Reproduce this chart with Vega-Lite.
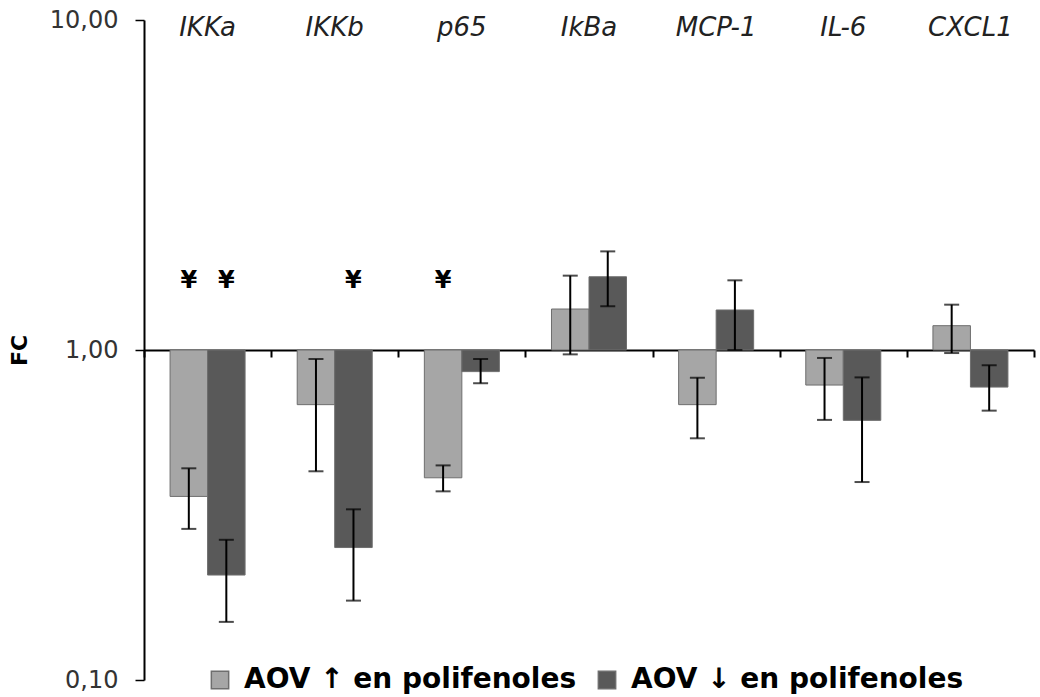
{
  "$schema": "https://vega.github.io/schema/vega-lite/v6.json",
  "width": 890,
  "height": 660,
  "autosize": {"type": "none"},
  "padding": {"left": 144, "top": 20, "right": 6, "bottom": 17},
  "background": "white",
  "config": {"view": {"stroke": null}},
  "datasets": {
    "bars": [
      {"gen": "IKKa", "grupo": "AOV ↑ en polifenoles", "FC": 0.36, "lo": 0.287, "hi": 0.438},
      {"gen": "IKKa", "grupo": "AOV ↓ en polifenoles", "FC": 0.208, "lo": 0.15, "hi": 0.266},
      {"gen": "IKKb", "grupo": "AOV ↑ en polifenoles", "FC": 0.683, "lo": 0.429, "hi": 0.939},
      {"gen": "IKKb", "grupo": "AOV ↓ en polifenoles", "FC": 0.252, "lo": 0.174, "hi": 0.329},
      {"gen": "p65", "grupo": "AOV ↑ en polifenoles", "FC": 0.41, "lo": 0.373, "hi": 0.447},
      {"gen": "p65", "grupo": "AOV ↓ en polifenoles", "FC": 0.86, "lo": 0.793, "hi": 0.939},
      {"gen": "IkBa", "grupo": "AOV ↑ en polifenoles", "FC": 1.331, "lo": 0.97, "hi": 1.68},
      {"gen": "IkBa", "grupo": "AOV ↓ en polifenoles", "FC": 1.667, "lo": 1.357, "hi": 1.99},
      {"gen": "MCP-1", "grupo": "AOV ↑ en polifenoles", "FC": 0.683, "lo": 0.54, "hi": 0.824},
      {"gen": "MCP-1", "grupo": "AOV ↓ en polifenoles", "FC": 1.322, "lo": 1.0, "hi": 1.626},
      {"gen": "IL-6", "grupo": "AOV ↑ en polifenoles", "FC": 0.783, "lo": 0.614, "hi": 0.946},
      {"gen": "IL-6", "grupo": "AOV ↓ en polifenoles", "FC": 0.612, "lo": 0.398, "hi": 0.826},
      {"gen": "CXCL1", "grupo": "AOV ↑ en polifenoles", "FC": 1.185, "lo": 0.979, "hi": 1.372},
      {"gen": "CXCL1", "grupo": "AOV ↓ en polifenoles", "FC": 0.772, "lo": 0.655, "hi": 0.899}
    ],
    "signos": [
      {"gen": "IKKa", "grupo": "AOV ↑ en polifenoles", "pos": 1.62, "signo": "¥"},
      {"gen": "IKKa", "grupo": "AOV ↓ en polifenoles", "pos": 1.62, "signo": "¥"},
      {"gen": "IKKb", "grupo": "AOV ↓ en polifenoles", "pos": 1.62, "signo": "¥"},
      {"gen": "p65", "grupo": "AOV ↑ en polifenoles", "pos": 1.62, "signo": "¥"}
    ]
  },
  "layer": [
    {
      "data": {"name": "bars"},
      "mark": {"type": "bar", "stroke": "#6e6e6e", "strokeWidth": 1},
      "encoding": {
        "x": {
          "field": "gen", "type": "nominal",
          "sort": ["IKKa", "IKKb", "p65", "IkBa", "MCP-1", "IL-6", "CXCL1"],
          "scale": {"paddingInner": 0, "paddingOuter": 0},
          "axis": {
            "orient": "bottom", "offset": -330, "title": null, "labels": false,
            "ticks": true, "tickBand": "extent", "tickSize": 7, "tickWidth": 2, "tickColor": "#000",
            "domain": true, "domainColor": "#000", "domainWidth": 2, "grid": false
          }
        },
        "xOffset": {
          "field": "grupo", "type": "nominal",
          "sort": ["AOV ↑ en polifenoles", "AOV ↓ en polifenoles"],
          "scale": {"paddingInner": 0, "paddingOuter": 0.695}
        },
        "y": {
          "field": "FC", "type": "quantitative",
          "scale": {"type": "log", "domain": [0.1, 10], "nice": false},
          "axis": {
            "values": [0.1, 1, 10],
            "labelExpr": "replace(format(datum.value, '.2f'), '.', ',')",
            "grid": false, "tickSize": 9, "tickWidth": 1.5, "tickColor": "#000",
            "domainColor": "#000", "domainWidth": 2,
            "labelFont": "DejaVu Sans", "labelFontSize": 24, "labelColor": "#333333", "labelPadding": 17,
            "title": "FC", "titleFont": "DejaVu Sans", "titleFontSize": 22, "titleFontWeight": "bold",
            "titleColor": "#000", "titlePadding": 18
          }
        },
        "y2": {"datum": 1},
        "color": {
          "field": "grupo", "type": "nominal",
          "sort": ["AOV ↑ en polifenoles", "AOV ↓ en polifenoles"],
          "scale": {"domain": ["AOV ↑ en polifenoles", "AOV ↓ en polifenoles"], "range": ["#a6a6a6", "#595959"]},
          "legend": {
            "orient": "none", "legendX": 62, "legendY": 646, "direction": "horizontal", "title": null,
            "labelFont": "DejaVu Sans", "labelFontWeight": "bold", "labelFontSize": 28, "labelColor": "#000",
            "labelLimit": 0,
            "symbolType": "square", "symbolSize": 300, "symbolStrokeColor": "#6e6e6e", "symbolStrokeWidth": 1.5,
            "columnPadding": 16, "labelOffset": 10
          }
        }
      }
    },
    {
      "data": {"name": "bars"},
      "mark": {"type": "rule", "color": "#000", "strokeWidth": 2},
      "encoding": {
        "x": {
          "field": "gen", "type": "nominal",
          "sort": ["IKKa", "IKKb", "p65", "IkBa", "MCP-1", "IL-6", "CXCL1"],
          "axis": {
            "orient": "top", "offset": -20, "title": null, "domain": false, "ticks": false, "tickSize": 0,
            "labelPadding": 0, "labelAngle": 0, "labelFont": "DejaVu Sans", "labelFontStyle": "italic",
            "labelFontSize": 26, "labelColor": "#222222", "grid": false
          }
        },
        "xOffset": {"field": "grupo", "type": "nominal", "sort": ["AOV ↑ en polifenoles", "AOV ↓ en polifenoles"]},
        "y": {"field": "lo", "type": "quantitative"},
        "y2": {"field": "hi"}
      }
    },
    {
      "data": {"name": "bars"},
      "mark": {"type": "tick", "color": "#000", "thickness": 2, "size": 15},
      "encoding": {
        "x": {"field": "gen", "type": "nominal", "sort": ["IKKa", "IKKb", "p65", "IkBa", "MCP-1", "IL-6", "CXCL1"], "axis": null},
        "xOffset": {"field": "grupo", "type": "nominal", "sort": ["AOV ↑ en polifenoles", "AOV ↓ en polifenoles"]},
        "y": {"field": "lo", "type": "quantitative"}
      }
    },
    {
      "data": {"name": "bars"},
      "mark": {"type": "tick", "color": "#000", "thickness": 2, "size": 15},
      "encoding": {
        "x": {"field": "gen", "type": "nominal", "sort": ["IKKa", "IKKb", "p65", "IkBa", "MCP-1", "IL-6", "CXCL1"], "axis": null},
        "xOffset": {"field": "grupo", "type": "nominal", "sort": ["AOV ↑ en polifenoles", "AOV ↓ en polifenoles"]},
        "y": {"field": "hi", "type": "quantitative"}
      }
    },
    {
      "data": {"name": "signos"},
      "mark": {"type": "text", "font": "DejaVu Sans", "fontSize": 24, "fontWeight": "bold", "color": "#000", "baseline": "middle", "align": "center"},
      "encoding": {
        "x": {"field": "gen", "type": "nominal", "sort": ["IKKa", "IKKb", "p65", "IkBa", "MCP-1", "IL-6", "CXCL1"], "axis": null},
        "xOffset": {"field": "grupo", "type": "nominal", "sort": ["AOV ↑ en polifenoles", "AOV ↓ en polifenoles"]},
        "y": {"field": "pos", "type": "quantitative"},
        "text": {"field": "signo"}
      }
    }
  ],
  "resolve": {"axis": {"x": "independent"}}
}
